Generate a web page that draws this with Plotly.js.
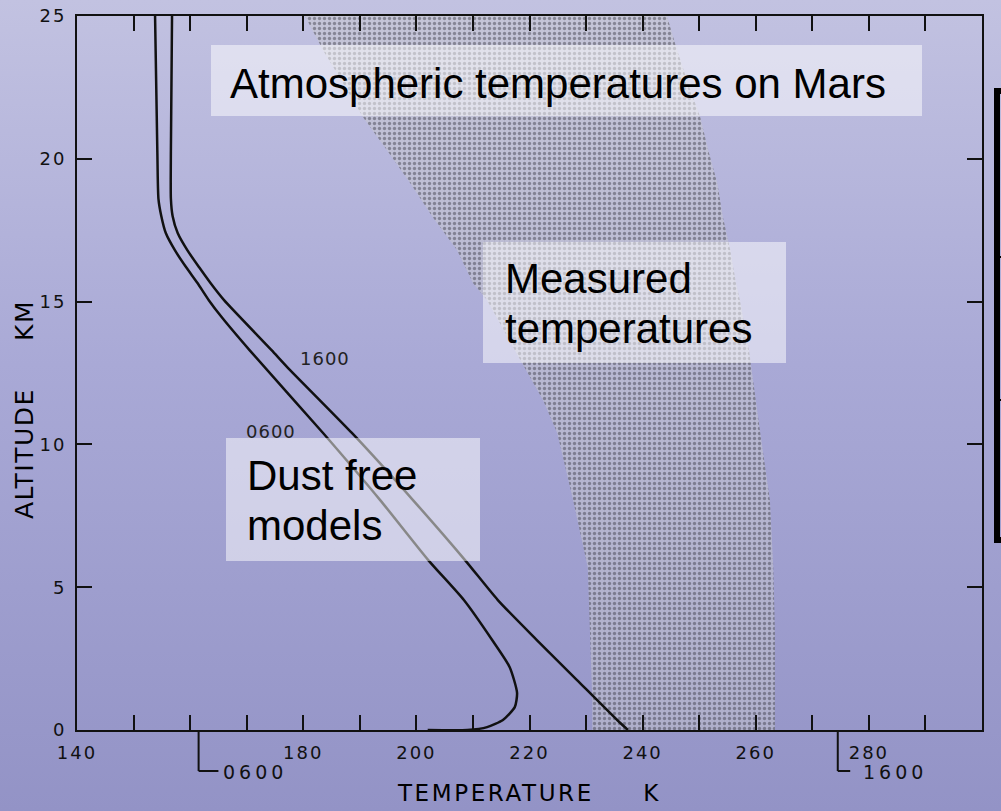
<!DOCTYPE html>
<html>
<head>
<meta charset="utf-8">
<script src="https://cdn.plot.ly/plotly-3.0.1.min.js"></script>
<style>
  html, body { margin: 0; padding: 0; }
  body { width: 1001px; height: 811px; overflow: hidden;
         background: linear-gradient(to bottom, #c2c2e1 0%, #a9a9d6 45%, #9393c6 100%); }
  #chart { width: 1001px; height: 811px; }
  .xtitle { letter-spacing: 2.6px !important; }
  .ytitle { letter-spacing: 1.5px !important;
            transform-box: fill-box; transform-origin: center;
            transform: translate(3px, 45px) rotate(-90deg) !important; }
  .xtick text, .ytick text { letter-spacing: 2px !important; }
  g.annotation[data-index="5"] text, g.annotation[data-index="6"] text { letter-spacing: 1px !important; }
  g.annotation[data-index="7"] text, g.annotation[data-index="8"] text { letter-spacing: 4px !important; }
</style>
</head>
<body>
<div id="chart"></div>
<script>
// ---- Data ----
// Dust-free model profile, local time 0600
const dawnAlt  = [25, 20.3, 18.6, 18.0, 17.4, 16.8, 16.2, 15.65, 15.05, 14.45, 13.3, 10.4, 8.05, 5.95, 4.55, 3.15, 2.2, 1.3, 0.8, 0.35, 0.1, 0, 0];
const dawnTemp = [153.8, 154.2, 154.4, 154.9, 155.7, 157.3, 159.3, 161.3, 163.3, 165.6, 170.5, 183.5, 193.6, 202.1, 208.4, 213.4, 216.5, 217.8, 217.4, 215.3, 212.5, 209.0, 202.0];
// Dust-free model profile, local time 1600
const noonAlt  = [25, 20.3, 18.6, 18.0, 17.4, 16.8, 16.2, 15.65, 15.05, 13.3, 12.7, 10.4, 8.05, 5.95, 4.55, 3.15, 1.75, 0.35, 0];
const noonTemp = [156.8, 156.6, 156.6, 156.9, 157.8, 159.5, 161.6, 163.6, 166.0, 174.4, 177.2, 188.6, 199.4, 208.6, 214.4, 221.3, 228.4, 235.5, 237.4];
// Measured temperature band (lower and upper limits)
const bandAlt  = [25, 23.8, 22.65, 21.45, 20.3, 19.15, 17.95, 16.8, 15.65, 15.05, 13.3, 11.55, 10.4, 8.05, 5.7, 3.4, 1.05, 0];
const bandLow  = [180.3, 183.5, 187.0, 190.6, 194.8, 198.9, 202.9, 207.2, 210.0, 212.5, 217.4, 222.4, 224.9, 227.7, 230.3, 230.7, 231.1, 231.1];
const bandHigh = [244.3, 246.1, 248.0, 250.2, 251.6, 253.2, 254.2, 255.5, 256.5, 257.2, 258.8, 260.0, 260.8, 262.5, 263.1, 263.4, 263.4, 263.4];
// Surface temperatures marked under the axis
const surfaceTimes = ['0600', '1600'];
const surfaceTemps = [161.5, 274.5];
// Axis ticks
const xTickVals = [140, 150, 160, 170, 180, 190, 200, 210, 220, 230, 240, 250, 260, 270, 280, 290, 300];
const xTickText = ['140', '', '', '', '180', '', '200', '', '220', '', '240', '', '260', '', '280', '', '300'];
const yTickVals = [0, 5, 10, 15, 20, 25];
const yTickText = ['0', '5', '10', '15', '20', '25'];

const NB = '\u00a0';
const lineFont = {family: 'Liberation Sans, Arial, sans-serif', size: 42, color: '#000'};
const sciFont  = {family: 'DejaVu Sans, sans-serif', size: 18, color: '#111'};

const bandX = bandLow.concat(bandHigh.slice().reverse());
const bandY = bandAlt.concat(bandAlt.slice().reverse());

const traces = [
  {x: bandX, y: bandY, type: 'scatter', mode: 'lines', fill: 'toself',
   line: {width: 0, color: 'rgba(0,0,0,0)'},
   fillcolor: 'rgba(200,200,206,0.5)',
   fillpattern: {shape: '.', size: 5, solidity: 0.35, fgcolor: 'rgba(40,40,50,0.8)', bgcolor: 'rgba(200,200,206,0.5)', fillmode: 'overlay'},
   name: 'Measured', hoverinfo: 'skip', showlegend: false},
  {x: dawnTemp, y: dawnAlt, type: 'scatter', mode: 'lines',
   line: {color: '#111', width: 2.5, shape: 'spline', smoothing: 0.6}, name: '0600', showlegend: false},
  {x: noonTemp, y: noonAlt, type: 'scatter', mode: 'lines',
   line: {color: '#111', width: 2.5, shape: 'spline', smoothing: 0.6}, name: '1600', showlegend: false}
];

// pixel helpers for overlay layout (plot area: x 77..982, y 16..730)
const px = v => (v - 77) / 905;
const py = v => (730 - v) / 714;

const boxFill = 'rgba(255,255,255,0.5)';
const shapes = [
  {type: 'rect', xref: 'paper', yref: 'paper', x0: px(211), x1: px(922), y0: py(116), y1: py(45), fillcolor: boxFill, line: {width: 0}, layer: 'above'},
  {type: 'rect', xref: 'paper', yref: 'paper', x0: px(483), x1: px(786), y0: py(363), y1: py(242), fillcolor: boxFill, line: {width: 0}, layer: 'above'},
  {type: 'rect', xref: 'paper', yref: 'paper', x0: px(226), x1: px(480), y0: py(561), y1: py(438), fillcolor: boxFill, line: {width: 0}, layer: 'above'},
  // black table at the right edge, mostly off the slide
  {type: 'rect', xref: 'paper', yref: 'paper', x0: px(997), x1: px(1040), y0: py(540), y1: py(91), line: {color: '#000', width: 6}, fillcolor: 'rgba(0,0,0,0)'},
  {type: 'line', xref: 'paper', yref: 'paper', x0: px(997), x1: px(1040), y0: py(257), y1: py(257), line: {color: '#000', width: 2}},
  {type: 'line', xref: 'paper', yref: 'paper', x0: px(997), x1: px(1040), y0: py(400), y1: py(400), line: {color: '#000', width: 2}}
];
// surface temperature brackets below the axis
const bracketLen = [3.5, 2.2];
surfaceTemps.forEach((t, i) => {
  shapes.push({type: 'line', xref: 'x', yref: 'paper', x0: t, x1: t, y0: 0, y1: py(771), line: {color: '#111', width: 2}});
  shapes.push({type: 'line', xref: 'x', yref: 'paper', x0: t, x1: t + bracketLen[i], y0: py(771), y1: py(771), line: {color: '#111', width: 2}});
});

const annotations = [
  {xref: 'paper', yref: 'paper', x: px(228), y: py(83.5), xanchor: 'left', yanchor: 'middle', text: 'Atmospheric temperatures on Mars', showarrow: false, font: lineFont},
  {xref: 'paper', yref: 'paper', x: px(503), y: py(278.5), xanchor: 'left', yanchor: 'middle', text: 'Measured', showarrow: false, font: lineFont},
  {xref: 'paper', yref: 'paper', x: px(503), y: py(328.5), xanchor: 'left', yanchor: 'middle', text: 'temperatures', showarrow: false, font: lineFont},
  {xref: 'paper', yref: 'paper', x: px(245), y: py(475.5), xanchor: 'left', yanchor: 'middle', text: 'Dust free', showarrow: false, font: lineFont},
  {xref: 'paper', yref: 'paper', x: px(245), y: py(525.5), xanchor: 'left', yanchor: 'middle', text: 'models', showarrow: false, font: lineFont},
  // curve labels
  {x: 183.8, y: 13.0, xref: 'x', yref: 'y', text: surfaceTimes[1], showarrow: false, font: {family: sciFont.family, size: 18, color: '#222'}},
  {x: 174.3, y: 10.45, xref: 'x', yref: 'y', text: surfaceTimes[0], showarrow: false, font: {family: sciFont.family, size: 18, color: '#222'}},
  // bracket labels below the axis
  {x: surfaceTemps[0] + 5.3, y: py(772), xref: 'x', yref: 'paper', xanchor: 'left', yanchor: 'middle', text: surfaceTimes[0], showarrow: false, font: {family: sciFont.family, size: 19, color: '#111'}},
  {x: surfaceTemps[1] + 5.6, y: py(772), xref: 'x', yref: 'paper', xanchor: 'left', yanchor: 'middle', text: surfaceTimes[1], showarrow: false, font: {family: sciFont.family, size: 19, color: '#111'}}
];

const axisCommon = {
  showline: true, linecolor: '#111', linewidth: 2, mirror: 'ticks',
  ticks: 'inside', ticklen: 15, tickwidth: 2, tickcolor: '#111',
  showgrid: false, zeroline: false, tickfont: sciFont
};

const layout = {
  width: 1001, height: 811,
  margin: {l: 77, r: 19, t: 16, b: 81, pad: 0},
  paper_bgcolor: 'rgba(0,0,0,0)', plot_bgcolor: 'rgba(0,0,0,0)',
  showlegend: false,
  xaxis: Object.assign({}, axisCommon, {
    range: [140, 300], tickmode: 'array', tickvals: xTickVals, ticktext: xTickText,
    ticklabelstandoff: 5,
    title: {text: 'TEMPERATURE' + NB.repeat(5) + 'K', font: {family: 'DejaVu Sans, sans-serif', size: 23, color: '#000'}, standoff: 23}
  }),
  yaxis: Object.assign({}, axisCommon, {
    range: [0, 25], tickmode: 'array', tickvals: yTickVals, ticktext: yTickText,
    ticklabelstandoff: 5,
    title: {text: 'ALTITUDE' + NB.repeat(5) + 'KM', font: {family: 'DejaVu Sans, sans-serif', size: 25, color: '#000'}, standoff: 8}
  }),
  shapes: shapes,
  annotations: annotations
};

Plotly.newPlot('chart', traces, layout, {staticPlot: true, displayModeBar: false});
</script>
</body>
</html>
